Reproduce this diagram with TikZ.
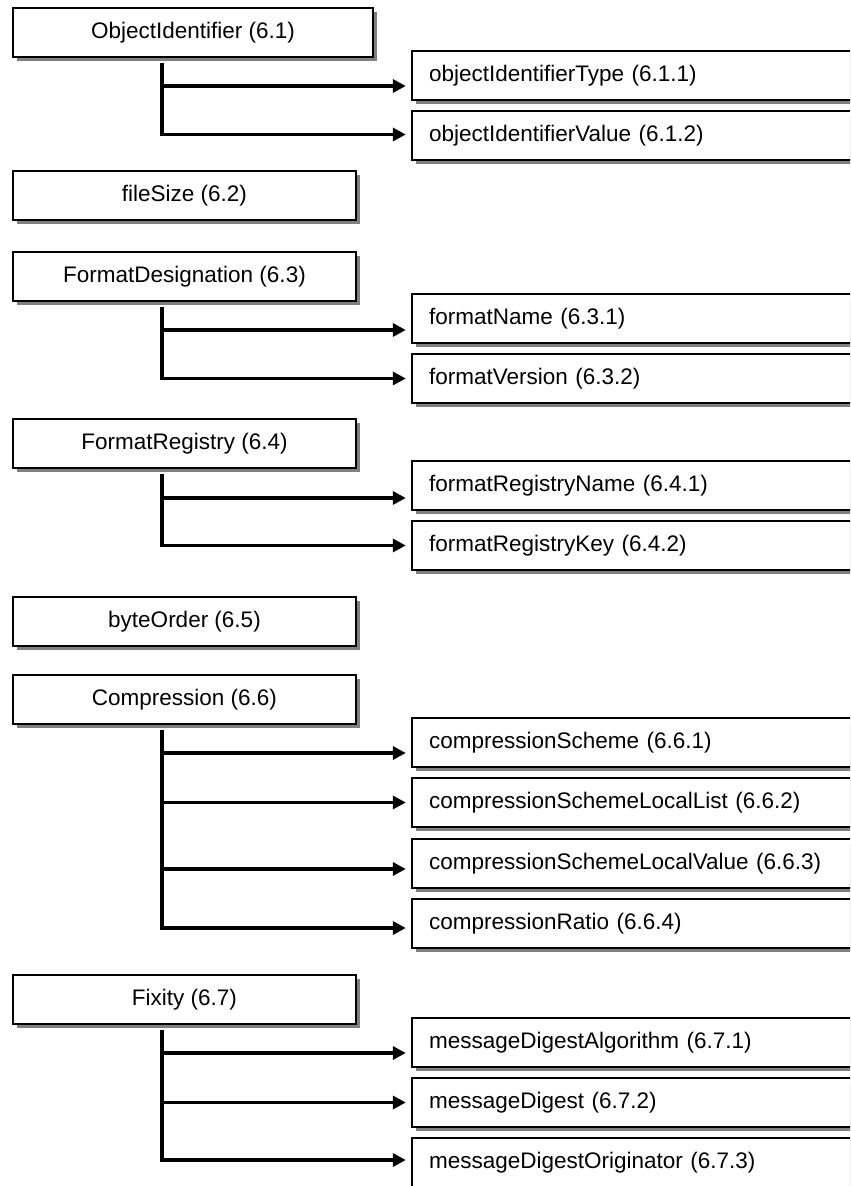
\documentclass[tikz,border=0pt]{standalone}
\usepackage{fontspec}
\setmainfont{Liberation Sans}
\usetikzlibrary{shadows,arrows.meta}
\begin{document}
\begin{tikzpicture}[x=0.5pt,y=-0.5pt,
  parentbox/.style={draw=black, line width=1pt, fill=white, rectangle,
    minimum height=24.5pt, minimum width=171.5pt, inner sep=0pt,
    anchor=north west, font=\fontsize{11.25}{13}\selectfont,
    drop shadow={shadow xshift=2pt, shadow yshift=-2pt, fill=black!50, opacity=1}},
  kidbox/.style={parentbox, text width=220pt, align=left, inner xsep=8.5pt},
  conn/.style={line width=1.8pt, -{Triangle[length=6.5pt,width=6.5pt]}, shorten >=2.6pt}]
\useasboundingbox (0,0) rectangle (850,1186);
\clip (0,0) rectangle (850,1186);

% 6.1
\node[parentbox, minimum width=180pt] (oi) at (12,7) {ObjectIdentifier (6.1)};
\node[kidbox] (oit) at (411,50) {objectIdentifierType (6.1.1)};
\node[kidbox] (oiv) at (411,110) {objectIdentifierValue (6.1.2)};
% 6.2
\node[parentbox] (fs) at (12,170) {fileSize (6.2)};
% 6.3
\node[parentbox] (fd) at (12,251) {FormatDesignation (6.3)};
\node[kidbox] (fdn) at (411,293) {formatName (6.3.1)};
\node[kidbox] (fdv) at (411,353) {formatVersion (6.3.2)};
% 6.4
\node[parentbox] (fr) at (12,418) {FormatRegistry (6.4)};
\node[kidbox] (frn) at (411,460) {formatRegistryName (6.4.1)};
\node[kidbox] (frk) at (411,520) {formatRegistryKey (6.4.2)};
% 6.5
\node[parentbox] (bo) at (12,596) {byteOrder (6.5)};
% 6.6
\node[parentbox] (cp) at (12,674) {Compression (6.6)};
\node[kidbox] (cs) at (411,717) {compressionScheme (6.6.1)};
\node[kidbox] (cll) at (411,777) {compressionSchemeLocalList (6.6.2)};
\node[kidbox] (clv) at (411,838) {compressionSchemeLocalValue (6.6.3)};
\node[kidbox] (cr) at (411,898) {compressionRatio (6.6.4)};
% 6.7
\node[parentbox] (fx) at (12,974) {Fixity (6.7)};
\node[kidbox] (mda) at (411,1017) {messageDigestAlgorithm (6.7.1)};
\node[kidbox] (md) at (411,1077) {messageDigest (6.7.2)};
\node[kidbox] (mdo) at (411,1137) {messageDigestOriginator (6.7.3)};

% arrow targets
\coordinate (a-oit) at ([yshift=-5.25pt]oit.west);
\coordinate (a-oiv) at ([yshift=0.5pt]oiv.west);
\coordinate (a-fdn) at ([yshift=-5.75pt]fdn.west);
\coordinate (a-fdv) at (fdv.west);
\coordinate (a-frn) at ([yshift=-6.25pt]frn.west);
\coordinate (a-frk) at (frk.west);
\coordinate (a-cs) at ([yshift=-5.25pt]cs.west);
\coordinate (a-cll) at (cll.west);
\coordinate (a-clv) at ([yshift=-2.75pt]clv.west);
\coordinate (a-cr) at ([yshift=-2.25pt]cr.west);
\coordinate (a-mda) at ([yshift=-5.25pt]mda.west);
\coordinate (a-md) at (md.west);
\coordinate (a-mdo) at ([yshift=1.25pt]mdo.west);

% trunk tops (just below the shadow)
\coordinate (v-oi) at ([xshift=75pt,yshift=-2.5pt]oi.south west);
\coordinate (v-fd) at ([xshift=75pt,yshift=-2.5pt]fd.south west);
\coordinate (v-fr) at ([xshift=75pt,yshift=-2.5pt]fr.south west);
\coordinate (v-cp) at ([xshift=75pt,yshift=-2.5pt]cp.south west);
\coordinate (v-fx) at ([xshift=75pt,yshift=-2.5pt]fx.south west);

% connectors
\draw[conn] (v-oi) |- (a-oiv);
\draw[conn] (v-oi |- a-oit) -- (a-oit);

\draw[conn] (v-fd) |- (a-fdv);
\draw[conn] (v-fd |- a-fdn) -- (a-fdn);

\draw[conn] (v-fr) |- (a-frk);
\draw[conn] (v-fr |- a-frn) -- (a-frn);

\draw[conn] (v-cp) |- (a-cr);
\draw[conn] (v-cp |- a-cs) -- (a-cs);
\draw[conn] (v-cp |- a-cll) -- (a-cll);
\draw[conn] (v-cp |- a-clv) -- (a-clv);

\draw[conn] (v-fx) |- (a-mdo);
\draw[conn] (v-fx |- a-mda) -- (a-mda);
\draw[conn] (v-fx |- a-md) -- (a-md);
\end{tikzpicture}
\end{document}
